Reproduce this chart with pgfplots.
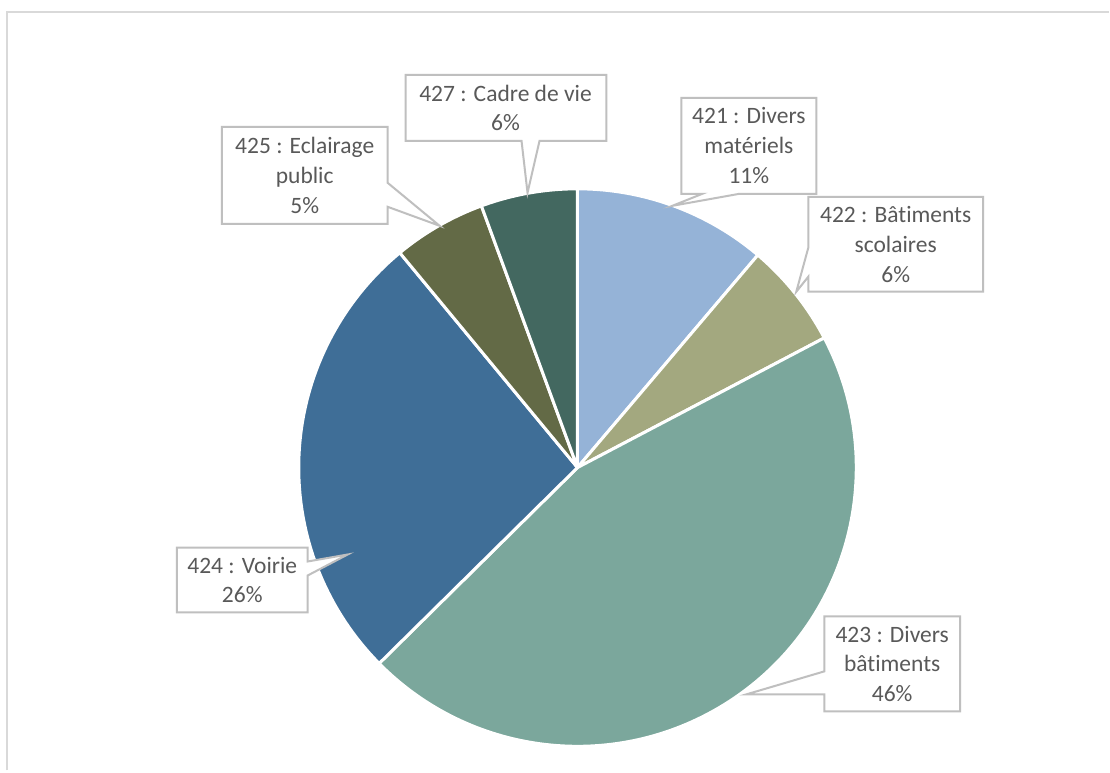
\documentclass[border=0pt]{standalone}
\usepackage{pgfplots}
\usepackage{pgfplotstable}
\pgfplotsset{compat=1.18}
\usepackage{fontspec}
\setmainfont{Carlito}[Ligatures=NoCommon]

\definecolor{c421}{HTML}{95B3D7}
\definecolor{c422}{HTML}{A3A87F}
\definecolor{c423}{HTML}{7BA79C}
\definecolor{c424}{HTML}{3F6E97}
\definecolor{c425}{HTML}{636A46}
\definecolor{c427}{HTML}{436860}
\definecolor{txt}{HTML}{595959}
\definecolor{boxline}{HTML}{BFBFBF}
\definecolor{frame}{HTML}{D9D9D9}

% parts in percent, clockwise from the top
\pgfplotstableread{
code pct
421 11.2
422 6.1
423 45.3
424 26.4
425 5.4
427 5.6
}\piedata

\tikzset{
  callout/.style={fill=white, draw=boxline, line width=1bp},
  lbl/.style={font=\fontsize{11.8}{15}\selectfont, text=txt, align=center, inner sep=0pt},
}

\begin{document}
\begin{tikzpicture}
\begin{axis}[
    width=555bp, height=385.5bp, scale only axis,
    xmin=0, xmax=1110, ymin=0, ymax=771,
    hide axis, clip=false,
]
\fill[white] (axis cs:0,0) rectangle (axis cs:1110,771);
\draw[frame, line width=1bp] (axis cs:7,0) -- (axis cs:7,759) -- (axis cs:1110,759);

% pie slices
\pgfplotsextra{
  \gdef\angstart{90}
  \foreach \i/\col in {0/c421,1/c422,2/c423,3/c424,4/c425,5/c427} {
    \pgfplotstablegetelem{\i}{pct}\of\piedata
    \pgfmathsetmacro\sweep{3.6*\pgfplotsretval}
    \pgfmathsetmacro\angend{\angstart-\sweep}
    \fill[\col, draw=white, line width=1.5bp, line join=round]
      (axis cs:578,303) -- ++(\angstart:139.5bp)
      arc[start angle=\angstart, end angle=\angend, radius=139.5bp] -- cycle;
    \xdef\angstart{\angend}
  }
}

% callouts (y = 771 - pixel row)
% 427
\draw[callout] (axis cs:406,696) -- (axis cs:607,696) -- (axis cs:607,630)
  -- (axis cs:540,630) -- (axis cs:528,578) -- (axis cs:522,630) -- (axis cs:406,630) -- cycle;
\node[lbl] at (axis cs:506,663) {427 : Cadre de vie\\6\%};
% 425
\draw[callout] (axis cs:222,644) -- (axis cs:388,644) -- (axis cs:388,588)
  -- (axis cs:440,545) -- (axis cs:388,564) -- (axis cs:388,547) -- (axis cs:222,547) -- cycle;
\node[lbl] at (axis cs:305,595.5) {425 : Eclairage\\public\\5\%};
% 421
\draw[callout] (axis cs:682,673) -- (axis cs:817,673) -- (axis cs:817,577)
  -- (axis cs:740,577) -- (axis cs:673,565) -- (axis cs:703,577) -- (axis cs:682,577) -- cycle;
\node[lbl] at (axis cs:749.5,625) {421 : Divers\\mat\'eriels\\11\%};
% 422
\draw[callout] (axis cs:809,574) -- (axis cs:984,574) -- (axis cs:984,479)
  -- (axis cs:809,479) -- (axis cs:809,494) -- (axis cs:797,479) -- (axis cs:809,523) -- cycle;
\node[lbl] at (axis cs:896.5,526.5) {422 : B\^atiments\\scolaires\\6\%};
% 424
\draw[callout] (axis cs:177,223) -- (axis cs:308,223) -- (axis cs:308,209)
  -- (axis cs:348,216) -- (axis cs:308,195) -- (axis cs:308,158) -- (axis cs:177,158) -- cycle;
\node[lbl] at (axis cs:242.5,190.5) {424 : Voirie\\26\%};
% 423
\draw[callout] (axis cs:825,154) -- (axis cs:961,154) -- (axis cs:961,59)
  -- (axis cs:825,59) -- (axis cs:825,76) -- (axis cs:747,76) -- (axis cs:825,99) -- cycle;
\node[lbl] at (axis cs:893,106.5) {423 : Divers\\b\^atiments\\46\%};
\end{axis}
\end{tikzpicture}
\end{document}
